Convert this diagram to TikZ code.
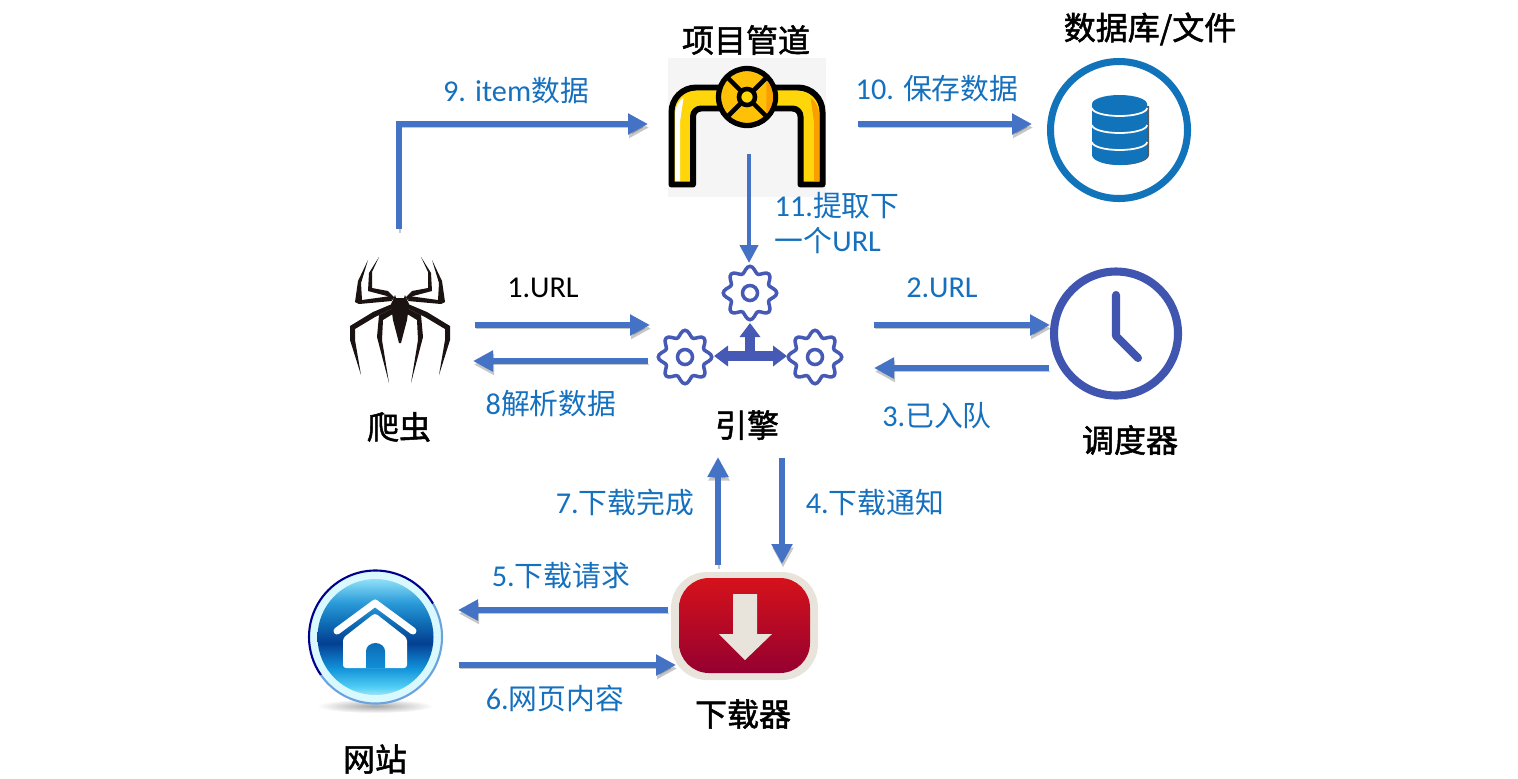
\documentclass[tikz,border=0pt]{standalone}
\usepackage{fontspec}
\setmainfont{Noto Sans CJK SC}
\newfontfamily\latfont[Scale=1.05]{Carlito}
\newfontfamily\titlefont[FakeBold=1.6]{Noto Sans CJK SC}
\usetikzlibrary{arrows.meta}

\definecolor{flowblue}{HTML}{4472C4}
\definecolor{labelblue}{HTML}{1570BE}
\definecolor{gearblue}{HTML}{4659B5}
\definecolor{dbblue}{HTML}{1173B9}
\definecolor{clockblue}{HTML}{3F55B0}
\definecolor{spiderblack}{HTML}{1A1311}
\definecolor{pipeyellow}{HTML}{FFD60A}
\definecolor{valveyellow}{HTML}{FFC107}
\definecolor{pipeorange}{HTML}{F9A000}
\definecolor{dlcream}{HTML}{E8E4DB}
\definecolor{dlredtop}{HTML}{D5121B}
\definecolor{dlredbot}{HTML}{950030}
\definecolor{globea}{HTML}{8FE0F8}
\definecolor{globeb}{HTML}{2A9AD8}
\definecolor{globec}{HTML}{0E6CB5}
\definecolor{globed}{HTML}{053F92}
\definecolor{globee}{HTML}{0F8FD8}
\definecolor{globef}{HTML}{50CEF5}
\definecolor{globeg}{HTML}{A0E4F5}

\pgfdeclareverticalshading{globe}{100bp}{
  color(0bp)=(globeg); color(25bp)=(globeg); color(28.4bp)=(globef);
  color(37bp)=(globee); color(47.4bp)=(globed);
  color(56bp)=(globec); color(64.7bp)=(globeb);
  color(75bp)=(globea); color(100bp)=(globea)}

\newcommand{\lat}[1]{{\latfont #1}}

\tikzset{
  flowshadow/.style={preaction={draw=black,opacity=.22,transform canvas={shift={(0.1mm,-0.35mm)}}}},
  flow/.style={flowblue,line width=1.5pt,-{Triangle[length=2mm,width=2mm]},flowshadow},
  flowthin/.style={flowblue,line width=1.15pt,-{Triangle[length=1.8mm,width=1.8mm]}},
  lbl/.style={labelblue,font=\fontsize{8.2pt}{10.2pt}\selectfont,inner sep=0pt},
  lblblack/.style={lbl,black},
  title/.style={black,font=\fontsize{9.1pt}{11pt}\selectfont\titlefont,inner sep=0pt},
  hubarrow/.style={gearblue,line width=3pt},
  gear/.pic={
    \draw[gearblue,line width=1pt] plot[domain=0:360,samples=73,smooth cycle] (\x:{23.5+3.2*cos(8*\x)});
    \draw[gearblue,line width=1pt] (0,0) circle (7.5);
  }
}

\begin{document}
\begin{tikzpicture}[x=0.1mm,y=-0.1mm]

% anchor points for size
\useasboundingbox (0,0) rectangle (1518,778);

% pipeline icon
\fill[black!4] (668,58) rectangle (826,197);
\draw[black,line width=1.7pt,fill=pipeyellow,line join=round] (671.5,184.5) -- (671.5,112) arc (180:270:24.5) -- (725,87.5) -- (725,108.5) -- (701,108.5) arc (270:180:8) -- (693,184.5) -- cycle;
\draw[black,line width=1.7pt,fill=pipeyellow,line join=round] (822.5,184.5) -- (822.5,112) arc (0:-90:24.5) -- (770,87.5) -- (770,108.5) -- (792.5,108.5) arc (-90:0:8) -- (800.5,184.5) -- cycle;
\fill[white] (675,181) -- (675,114) arc (180:235:20) -- (680,122) -- (680,181) -- cycle;
\fill[pipeorange] (819,181) -- (819,114) arc (0:-55:20) -- (814,122) -- (814,181) -- cycle;
\coordinate (valve) at (747,97);
\draw[black,line width=1.5pt,fill=valveyellow] (valve) circle (28.5);
\fill[pipeorange] (valve) ++(-42:26) arc (-42:42:26) -- cycle;
\draw[black,line width=1.3pt] (726.5,76.5) -- (767.5,117.5) (767.5,76.5) -- (726.5,117.5);
\draw[black,line width=1.3pt,fill=pipeyellow] (valve) circle (8);

% database icon
\draw[dbblue,line width=2pt] (1119,130) circle (68.5);
\fill[black!65] (1093,106) -- (1093,155) arc (180:0:28 and 10) -- (1149,106) -- cycle;
\fill[dbblue] (1092,104) -- (1092,155) arc (180:0:27.5 and 10) -- (1147,104) arc (0:-180:27.5 and 9) -- cycle;
\foreach \ly in {108,125,142}{
  \draw[white,line width=0.5pt] (1092,\ly) arc (180:0:27.5 and 8);
}

% spider icon
\foreach \s in {1,-1}{
\begin{scope}[shift={(400,0)},xscale=\s]
  \fill[spiderblack] (-32,260) -- (-42,281) -- (-45,302) -- (-41,304) -- (-8,301) -- (-9,296) -- (-38,300) -- (-39,283) -- cycle;
  \fill[spiderblack] (-21,257) -- (-31,273) -- (-32,291) -- (-13,296) -- (-7,300) -- (-6,297) -- (-12,291) -- (-28,288) -- (-28,272) -- cycle;
  \fill[spiderblack] (-8,304) -- (-27,312) -- (-50,326) -- (-50,340) -- (-39,375) -- (-45,340) -- (-45,329) -- (-25,317) -- (-7,308) -- cycle;
  \fill[spiderblack] (-7,308) -- (-21,315) -- (-23,337) -- (-11,383) -- (-18,340) -- (-17,320) -- (-4,312) -- cycle;
  \fill[spiderblack] (0,298) -- (-4,298) -- (-5,295) -- (-7,300) -- (-9,304) -- (-8,313) -- (-7,320) -- (-1,343) -- (0,343) -- cycle;
\end{scope}
}

% engine gears
\pic (geartop) at (750,293) {gear};
\pic (gearleft) at (685,357) {gear};
\pic (gearright) at (815,357) {gear};
\coordinate (hub) at (750,356);
\coordinate (hubtop) at (750,323);
\coordinate (hubleft) at (714,356);
\coordinate (hubright) at (787,356);
\draw[hubarrow,{Triangle[length=1.4mm,width=2mm]}-{Triangle[length=1.4mm,width=2mm]}] (hubleft) -- (hubright);
\draw[hubarrow,-{Triangle[length=1.4mm,width=2mm]}] (hub) -- (hubtop);

% clock icon
\draw[clockblue,line width=2.3pt] (1116,333.5) circle (62);
\coordinate (clockcentre) at (1116,336);
\coordinate (clockhour) at (1116,295);
\coordinate (clockmin) at (1138,358);
\draw[clockblue,line width=2.3pt,line cap=round,line join=round] (clockhour) -- (clockcentre) -- (clockmin);

% home button
\shade[inner color=gray!70,outer color=white] (375,706) ellipse (58 and 7);
\coordinate (home) at (375.5,637);
\fill[blue!15!cyan!15!white] (home) circle (67);
\draw[blue!55!black,line width=0.6pt] (home) ++(-30:66.5) arc (-30:-215:66.5);
\draw[cyan!60!blue!60,line width=0.6pt] (home) ++(-30:66.5) arc (-30:145:66.5);
\shade[shading=globe] (home) circle (58);
\draw[white,line width=2pt,line cap=round,line join=round] (337,631) -- (375,603) -- (413,631);
\fill[white,rounded corners=0.3mm] (343,638) -- (375,613) -- (407,638) -- (407,668) -- (343,668) -- cycle;
\shade[top color=globec,bottom color=globee] (366,668) -- (366,651) arc (180:360:9.5 and 8) -- (385,668) -- cycle;

% downloader icon
\fill[dlcream,rounded corners=3.6mm] (671,572) rectangle (818,680);
\shade[top color=dlredtop,bottom color=dlredbot,rounded corners=3mm] (679,578) rectangle (810,673);
\fill[dlcream] (733,594) -- (757,594) -- (757,634) -- (772,634) -- (745,660) -- (719,634) -- (733,634) -- cycle;

% free ends of the arrows
\coordinate (spiderup) at (399,229);
\coordinate (corner) at (399,124);
\coordinate (pipein) at (648,124);
\coordinate (pipeout) at (858,124);
\coordinate (dbin) at (1032,124);
\coordinate (pipedown) at (749,154);
\coordinate (enginetop) at (749,263);
\coordinate (spiderout) at (475,325);
\coordinate (enginein) at (650,325);
\coordinate (engineout) at (648,361);
\coordinate (spiderin) at (473,361);
\coordinate (engineright) at (874,325);
\coordinate (clockin) at (1050,325);
\coordinate (clockout) at (1049,368);
\coordinate (enginereturn) at (874,368);
\coordinate (enginedown) at (782,458);
\coordinate (dltop) at (782,564);
\coordinate (dlup) at (718,565);
\coordinate (enginebottom) at (718,457);
\coordinate (dlout) at (668,610);
\coordinate (homein) at (458,610);
\coordinate (homeout) at (459,665);
\coordinate (dlin) at (676,665);

% arrows
\draw[flow] (spiderup) -- (corner) -- (pipein);
\draw[flow] (pipeout) -- (dbin);
\draw[flowthin] (pipedown) -- (enginetop);
\draw[flow] (spiderout) -- (enginein);
\draw[flow] (engineout) -- (spiderin);
\draw[flow] (engineright) -- (clockin);
\draw[flow] (clockout) -- (enginereturn);
\draw[flow] (enginedown) -- (dltop);
\draw[flow] (dlup) -- (enginebottom);
\draw[flow] (dlout) -- (homein);
\draw[flow] (homeout) -- (dlin);

% arrow labels
\node[lbl] (lblnine) at (516,91) {\lat{9. item}数据};
\node[lbl] (lblten) at (937,89) {\lat{10. }保存数据};
\node[lbl,anchor=west] (lblelevena) at (774,206) {\lat{11.}提取下};
\node[lbl,anchor=west] (lblelevenb) at (774,241) {一个\lat{URL}};
\node[lblblack] (lblone) at (543,288) {\lat{1.URL}};
\node[lbl] (lbltwo) at (942,288) {\lat{2.URL}};
\node[lbl] (lbleight) at (551,404) {\lat{8}解析数据};
\node[lbl] (lblthree) at (937,416) {\lat{3.}已入队};
\node[lbl] (lblseven) at (625,503) {\lat{7.}下载完成};
\node[lbl] (lblfour) at (875,503) {\lat{4.}下载通知};
\node[lbl] (lblfive) at (561,576) {\lat{5.}下载请求};
\node[lbl] (lblsix) at (555,698) {\lat{6.}网页内容};

% icon titles
\node[title] (pipetitle) at (746,40) {项目管道};
\node[title] (dbtitle) at (1150,29) {数据库/文件};
\node[title] (spidertitle) at (399,427) {爬虫};
\node[title] (enginetitle) at (747,425) {引擎};
\node[title] (clocktitle) at (1130,440) {调度器};
\node[title] (dltitle) at (743,714) {下载器};
\node[title] (hometitle) at (375,759) {网站};

\end{tikzpicture}
\end{document}
